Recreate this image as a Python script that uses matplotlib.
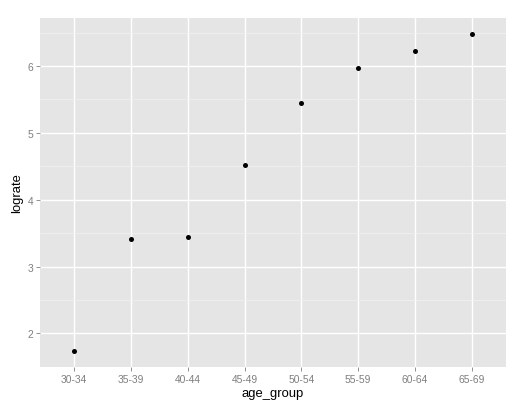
import matplotlib
matplotlib.use("Agg")
import matplotlib.pyplot as plt
import numpy as np

age_groups = ["30-34", "35-39", "40-44", "45-49", "50-54", "55-59", "60-64", "65-69"]
lograte = [1.735, 3.41, 3.44, 4.52, 5.45, 5.975, 6.225, 6.48]
y_ticks = [2, 3, 4, 5, 6]

plt.rcParams['font.family'] = ['Liberation Sans', 'DejaVu Sans']

fig = plt.figure(figsize=(5.25, 4.1), dpi=100)
ax = fig.add_axes([40/525, 42/410, (506-40)/525, (391-42)/410])
ax.set_facecolor('#E5E5E5')

x = np.arange(len(age_groups))
ax.scatter(x, lograte, s=13, color='black', zorder=3, linewidths=0)

ax.set_xlim(-0.6, len(age_groups) - 1 + 0.6)
ymin, ymax = min(lograte), max(lograte)
pad = (ymax - ymin) * 0.05
ax.set_ylim(ymin - pad, ymax + pad)

ax.set_xticks(x)
ax.set_xticklabels(age_groups)
ax.set_yticks(y_ticks)
ax.set_yticks([1.5, 2.5, 3.5, 4.5, 5.5, 6.5], minor=True)

ax.grid(True, which='major', color='white', linewidth=1.0, zorder=1)
ax.grid(True, which='minor', axis='y', color='#F2F2F2', linewidth=0.5, zorder=1)
ax.set_axisbelow(True)

for s in ax.spines.values():
    s.set_visible(False)

ax.tick_params(axis='both', which='major', colors='#7F7F7F', labelcolor='#7F7F7F',
               labelsize=7.4, length=3, width=0.6, direction='out', pad=2)
ax.tick_params(axis='y', which='minor', length=0)

ax.set_xlabel('age_group', fontsize=9.4, color='black', labelpad=2)
ax.set_ylabel('lograte', fontsize=9.4, color='black', labelpad=3)

fig.savefig('out.png', dpi=100, facecolor='white')
